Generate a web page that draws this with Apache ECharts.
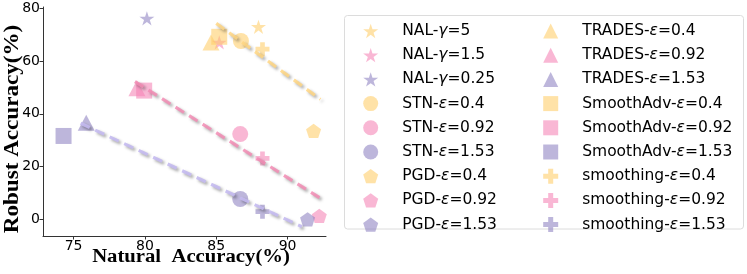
<!DOCTYPE html>
<html>
<head>
<meta charset="utf-8">
<script src="https://cdn.jsdelivr.net/npm/echarts@6/dist/echarts.min.js"></script>
<style>html,body{margin:0;padding:0;background:#fff}#c{width:747px;height:274px}</style>
</head>
<body>
<div id="c"></div>
<script>
// ---- data ----
const groupColors = ['rgba(255,204,102,0.72)', 'rgba(245,130,180,0.72)', 'rgba(140,128,192,0.72)'];
const lineColors = ['rgba(255,214,130,0.85)', 'rgba(242,140,180,0.85)', 'rgba(196,186,240,0.9)'];
const methods = ['NAL', 'STN', 'PGD', 'TRADES', 'SmoothAdv', 'smoothing'];
const nalParams = ['γ=5', 'γ=1.5', 'γ=0.25'];
const epsParams = ['ε=0.4', 'ε=0.92', 'ε=1.53'];
const natNAL = [87.96, 85.21, 80.14];
const robNAL = [73.0, 67.1, 76.2];
const natSTN = [86.73, 86.68, 86.68];
const robSTN = [67.6, 32.3, 7.7];
const natPGD = [91.82, 92.22, 91.40];
const robPGD = [33.5, 1.3, 0.0];
const natTRADES = [84.63, 79.44, 75.89];
const robTRADES = [67.0, 49.7, 36.6];
const natSmoothAdv = [85.21, 79.95, 74.30];
const robSmoothAdv = [69.2, 48.8, 31.6];
const natSmoothing = [88.24, 88.24, 88.24];
const robSmoothing = [64.5, 23.1, 2.9];
const trendX = [[85.0, 92.3], [79.3, 92.3], [75.5, 91.0]];
const trendY = [[74.3, 45.5], [52.2, 8.0], [36.4, -2.8]];
const xTicks = [75, 80, 85, 90];
const yTicks = [0, 20, 40, 60, 80];
const xTitle = 'Natural  Accuracy(%)';
const yTitle = 'Robust Accuracy(%)';

// ---- symbols ----
const STAR = 'path://M100,0 L122.45,69.1 L195.11,69.1 L136.33,111.8 L158.78,180.9 L100,138.2 L41.22,180.9 L63.67,111.8 L4.89,69.1 L77.55,69.1 Z';
const PENT = 'path://M100,0 L195.11,69.1 L158.78,180.9 L41.22,180.9 L4.89,69.1 Z';
const PLUS = 'path://M1,0 L2,0 L2,1 L3,1 L3,2 L2,2 L2,3 L1,3 L1,2 L0,2 L0,1 L1,1 Z';
const methodStyle = {
  NAL: {symbol: STAR, size: 15, nat: natNAL, rob: robNAL},
  STN: {symbol: 'circle', size: 16, nat: natSTN, rob: robSTN},
  PGD: {symbol: PENT, size: 15, nat: natPGD, rob: robPGD},
  TRADES: {symbol: 'triangle', size: [17, 16], nat: natTRADES, rob: robTRADES},
  SmoothAdv: {symbol: 'rect', size: 16, nat: natSmoothAdv, rob: robSmoothAdv},
  smoothing: {symbol: PLUS, size: 14, nat: natSmoothing, rob: robSmoothing}
};

const series = [];
const names = [];
methods.forEach(m => {
  const st = methodStyle[m];
  const params = m === 'NAL' ? nalParams : epsParams;
  for (let g = 0; g < 3; g++) {
    const name = m + '-' + params[g];
    names.push(name);
    series.push({
      type: 'scatter', name: name, symbol: st.symbol, symbolSize: st.size,
      symbolKeepAspect: true,
      itemStyle: {color: groupColors[g]},
      data: [[st.nat[g], st.rob[g]]], z: 2,
      emphasis: {disabled: true}
    });
  }
});
for (let g = 0; g < 3; g++) {
  series.push({
    type: 'line', name: 'trend' + g, showSymbol: false, symbol: 'none', z: 3,
    data: [[trendX[g][0], trendY[g][0]], [trendX[g][1], trendY[g][1]]],
    lineStyle: {color: lineColors[g], width: 3.2, type: [10, 6],
      shadowColor: 'rgba(0,0,0,0.4)', shadowBlur: 3, shadowOffsetX: 2, shadowOffsetY: 2},
    emphasis: {disabled: true}
  });
}

const legendText = {
  fontFamily: 'DejaVu Sans', fontSize: 15.5, color: '#000', lineHeight: 15,
  padding: [0, 0, 0, 19],
  rich: {i: {fontFamily: 'DejaVu Sans', fontSize: 15.5, fontStyle: 'italic', lineHeight: 15, color: '#000'}}
};
const fmt = n => n.replace(/([γε])/g, '{i|$1}');
const axisFont = {fontFamily: 'DejaVu Sans', fontSize: 14, color: '#000'};

const chart = echarts.init(document.getElementById('c'), null, {renderer: 'canvas'});
chart.setOption({
  animation: false,
  grid: {left: 43, right: 421, top: 7, bottom: 38, containLabel: false},
  xAxis: {
    type: 'value', min: 72.86, max: 92.69,
    axisLine: {show: true, onZero: false, lineStyle: {color: '#333', width: 1}},
    axisTick: {show: true, length: 3.5, customValues: xTicks, lineStyle: {color: '#333'}},
    axisLabel: Object.assign({margin: 3, customValues: xTicks, showMinLabel: true, showMaxLabel: true}, axisFont),
    splitLine: {show: false}
  },
  yAxis: {
    type: 'value', min: -6.33, max: 80.5,
    axisLine: {show: true, onZero: false, lineStyle: {color: '#333', width: 1}},
    axisTick: {show: true, length: 3.5, customValues: yTicks, lineStyle: {color: '#333'}},
    axisLabel: Object.assign({margin: 3, customValues: yTicks}, axisFont),
    splitLine: {show: false}
  },
  legend: [
    {data: names.slice(0, 9), orient: 'vertical', left: 363.2, top: 23, padding: 0,
     itemWidth: 15, itemHeight: 15, itemGap: 8.2, formatter: fmt, textStyle: legendText, selectedMode: false},
    {data: names.slice(9), orient: 'vertical', left: 543.2, top: 23, padding: 0,
     itemWidth: 15, itemHeight: 15, itemGap: 8.2, formatter: fmt, textStyle: legendText, selectedMode: false}
  ],
  graphic: [{
    type: 'rect', z: -1, shape: {x: 344.5, y: 15.5, width: 399, height: 213.5, r: 3},
    style: {fill: '#fff', stroke: '#dcdcdc', lineWidth: 1}
  }, {
    type: 'text', x: 191, y: 257, scaleX: 1.15,
    style: {text: xTitle, align: 'center', verticalAlign: 'middle',
      fontFamily: 'Liberation Serif', fontWeight: 'bold', fontSize: 18, fill: '#000'}
  }, {
    type: 'text', x: 12.5, y: 129, rotation: Math.PI / 2, scaleX: 1.1,
    style: {text: yTitle, align: 'center', verticalAlign: 'middle',
      fontFamily: 'Liberation Serif', fontWeight: 'bold', fontSize: 21, fill: '#000'}
  }],
  series: series
});
</script>
</body>
</html>
